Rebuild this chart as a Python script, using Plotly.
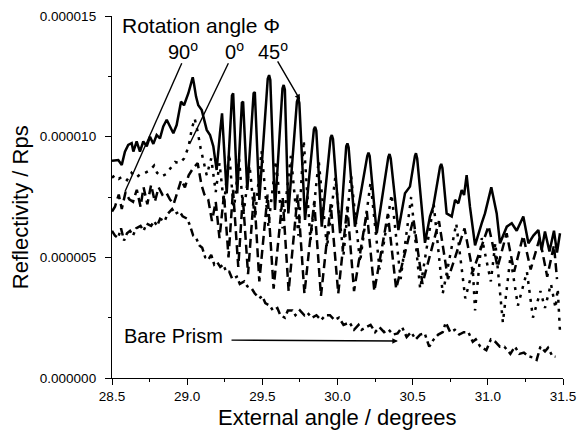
import plotly.graph_objects as go

# ---------------- data (reflectivity in units of 1e-6) ----------------
rot45 = [(28.50, 9.0), (28.542, 9.03), (28.565, 8.83), (28.586, 9.38), (28.608, 9.66), (28.631, 9.73),
         (28.642, 9.38), (28.664, 9.8), (28.686, 9.38), (28.708, 9.8), (28.731, 9.6), (28.753, 10.0),
         (28.775, 9.7), (28.797, 10.07), (28.819, 9.93), (28.841, 10.42), (28.864, 10.7), (28.886, 10.4),
         (28.908, 10.14), (28.930, 10.48), (28.959, 11.45), (28.979, 11.3), (29.008, 11.8), (29.030, 12.3),
         (29.037, 12.46), (29.045, 12.2), (29.059, 11.66), (29.074, 11.3), (29.097, 11.1), (29.130, 10.28),
         (29.152, 10.07), (29.174, 9.6), (29.196, 8.62), (29.218, 10.14), (29.232, 10.97), (29.263, 7.65),
         (29.282, 10.0), (29.298, 11.7), (29.306, 11.8), (29.333, 7.65), (29.364, 11.4), (29.372, 11.45),
         (29.400, 7.79), (29.442, 11.8), (29.450, 11.85), (29.480, 7.38), (29.536, 12.4), (29.545, 12.55),
         (29.553, 12.35), (29.584, 6.96), (29.634, 12.0), (29.642, 12.14), (29.650, 11.95), (29.673, 6.82),
         (29.730, 11.45), (29.738, 11.6), (29.746, 11.4), (29.784, 6.55), (29.843, 10.3), (29.851, 10.41),
         (29.859, 10.25), (29.895, 6.27), (29.954, 9.95), (29.962, 10.07), (29.970, 9.9), (30.017, 6.0),
         (30.058, 9.6), (30.066, 9.72), (30.074, 9.55), (30.116, 6.27), (30.198, 9.2), (30.206, 9.34),
         (30.214, 9.2), (30.261, 6.0), (30.338, 9.15), (30.346, 9.28), (30.354, 9.1), (30.405, 6.13),
         (30.449, 7.65), (30.482, 7.93), (30.515, 9.2), (30.522, 9.31), (30.530, 9.1), (30.582, 5.6),
         (30.615, 6.69), (30.637, 7.1), (30.682, 8.75), (30.690, 8.87), (30.698, 8.7), (30.726, 6.82),
         (30.760, 6.69), (30.782, 7.38), (30.804, 7.24), (30.826, 7.79), (30.842, 7.58), (30.859, 8.41),
         (30.881, 7.1), (30.915, 5.5), (30.959, 6.41), (30.981, 6.82), (31.023, 7.9), (31.059, 6.82),
         (31.081, 5.58), (31.126, 6.27), (31.159, 6.41), (31.192, 6.1), (31.236, 6.69), (31.270, 5.58),
         (31.303, 5.9), (31.336, 6.13), (31.358, 5.3), (31.380, 6.07), (31.410, 5.24), (31.440, 6.1),
         (31.460, 5.2), (31.480, 6.0)]

rot0 = [(28.50, 8.3), (28.52, 8.4), (28.545, 8.25), (28.57, 8.35), (28.60, 8.2), (28.63, 8.5), (28.66, 8.3),
        (28.69, 8.45), (28.72, 8.5), (28.75, 8.6), (28.78, 8.8), (28.80, 8.5), (28.83, 8.35), (28.86, 8.45),
        (28.89, 8.7), (28.92, 8.95), (28.95, 8.9), (28.98, 9.1), (29.01, 9.6), (29.03, 10.3), (29.05, 10.75),
        (29.07, 10.2), (29.09, 9.5), (29.11, 8.9), (29.13, 8.4), (29.16, 9.1), (29.19, 7.7), (29.215, 8.9),
        (29.245, 7.2), (29.28, 9.3), (29.31, 6.9), (29.345, 9.1), (29.375, 6.8), (29.415, 8.8), (29.45, 6.6),
        (29.495, 9.4), (29.54, 6.3), (29.59, 9.0), (29.635, 6.2), (29.69, 9.2), (29.74, 5.9), (29.775, 9.85),
        (29.82, 5.7), (29.875, 9.0), (29.93, 5.4), (29.985, 8.3), (30.04, 5.1), (30.09, 8.4), (30.15, 4.8),
        (30.22, 8.1), (30.28, 4.5), (30.36, 7.6), (30.42, 4.1), (30.49, 7.5), (30.55, 3.7), (30.64, 7.2),
        (30.70, 3.5), (30.79, 6.4), (30.85, 3.3), (30.90, 4.5), (30.915, 2.8), (30.96, 5.8), (31.02, 4.0),
        (31.05, 5.6), (31.10, 2.3), (31.15, 5.0), (31.20, 3.0), (31.26, 4.4), (31.30, 2.5), (31.35, 3.6),
        (31.38, 2.9), (31.42, 3.9), (31.45, 2.9), (31.465, 3.7), (31.48, 1.9)]

rot90 = [(28.50, 6.9), (28.52, 7.1), (28.545, 7.6), (28.565, 7.0), (28.59, 7.7), (28.615, 7.4), (28.64, 7.3),
         (28.665, 7.8), (28.69, 7.1), (28.71, 7.9), (28.735, 7.2), (28.76, 8.0), (28.785, 7.3), (28.81, 7.9),
         (28.835, 7.6), (28.86, 7.7), (28.885, 7.4), (28.91, 7.2), (28.935, 7.7), (28.96, 8.2), (28.985, 7.9),
         (29.01, 8.4), (29.04, 8.7), (29.07, 8.9), (29.095, 8.0), (29.115, 7.6), (29.14, 7.4), (29.165, 6.5),
         (29.19, 7.3), (29.215, 5.8), (29.245, 7.6), (29.275, 5.0), (29.305, 7.8), (29.34, 4.6), (29.37, 7.5),
         (29.405, 4.3), (29.445, 7.7), (29.48, 4.0), (29.535, 7.6), (29.575, 3.7), (29.635, 7.5), (29.675, 3.6),
         (29.735, 7.6), (29.78, 3.5), (29.845, 7.3), (29.89, 3.4), (29.955, 7.2), (30.005, 3.5), (30.065, 7.1),
         (30.11, 3.6), (30.195, 6.9), (30.245, 3.6), (30.335, 6.8), (30.39, 3.7), (30.505, 6.6), (30.565, 3.9),
         (30.675, 6.5), (30.735, 4.1), (30.845, 6.2), (30.90, 4.4), (31.005, 6.3), (31.065, 4.6), (31.125, 6.0),
         (31.175, 4.4), (31.235, 5.9), (31.285, 4.5), (31.345, 5.8), (31.395, 4.2), (31.44, 5.5), (31.46, 4.1)]

bare = [(28.50, 6.1), (28.52, 5.9), (28.54, 5.8), (28.56, 6.2), (28.58, 5.7), (28.60, 6.0), (28.62, 6.1),
        (28.64, 5.9), (28.66, 6.2), (28.69, 6.3), (28.71, 6.1), (28.73, 6.4), (28.76, 6.3), (28.78, 6.5),
        (28.80, 6.3), (28.82, 6.6), (28.85, 6.5), (28.87, 6.8), (28.90, 7.0), (28.92, 6.8), (28.95, 6.9),
        (28.97, 6.7), (29.00, 6.6), (29.02, 6.3), (29.04, 5.9), (29.06, 5.8), (29.08, 5.5), (29.10, 5.4),
        (29.12, 5.0), (29.14, 4.9), (29.16, 5.1), (29.18, 4.7), (29.20, 4.8), (29.22, 4.6), (29.24, 4.7),
        (29.26, 4.4), (29.28, 4.4), (29.30, 4.1), (29.33, 4.2), (29.35, 3.9), (29.38, 4.0), (29.40, 3.8),
        (29.43, 3.7), (29.45, 3.5), (29.48, 3.3), (29.50, 3.4), (29.52, 3.1), (29.55, 3.0), (29.57, 2.8),
        (29.60, 2.9), (29.62, 2.6), (29.65, 2.5), (29.67, 2.8), (29.70, 2.8), (29.72, 2.6), (29.75, 2.8),
        (29.78, 2.6), (29.80, 2.7), (29.83, 2.5), (29.86, 2.6), (29.89, 2.4), (29.92, 2.6), (29.95, 2.6),
        (29.98, 2.4), (30.01, 2.5), (30.04, 2.2), (30.08, 2.3), (30.11, 2.0), (30.14, 2.2), (30.16, 2.0),
        (30.19, 2.1), (30.22, 2.2), (30.25, 1.9), (30.28, 2.1), (30.31, 1.9), (30.34, 2.0), (30.37, 1.8),
        (30.40, 1.85), (30.43, 2.1), (30.46, 1.7), (30.49, 1.9), (30.52, 1.6), (30.55, 1.8), (30.58, 1.85),
        (30.61, 1.3), (30.64, 1.6), (30.67, 1.8), (30.70, 1.9), (30.72, 2.3), (30.75, 1.9), (30.78, 2.0),
        (30.81, 1.8), (30.84, 1.9), (30.87, 1.9), (30.90, 1.5), (30.92, 1.6), (30.95, 1.3), (30.99, 1.15),
        (31.02, 1.6), (31.05, 1.5), (31.08, 1.3), (31.11, 1.3), (31.15, 1.0), (31.18, 1.3), (31.21, 1.0),
        (31.24, 1.05), (31.27, 0.9), (31.30, 0.85), (31.325, 0.75), (31.35, 1.3), (31.38, 1.1),
        (31.40, 1.25), (31.43, 0.9), (31.45, 0.88)]

x_ticks = [28.5, 29.0, 29.5, 30.0, 30.5, 31.0, 31.5]
y_ticks = [0.0, 5e-6, 10e-6, 15e-6]
SCALE = 1e-6

FONT = "Liberation Sans, Arial, sans-serif"


def xy(series):
    xs = [p[0] for p in series]
    ys = [p[1] * SCALE for p in series]
    return xs, ys


fig = go.Figure()
styles = [
    (rot0, "0°", "3px,6px"),
    (rot90, "90°", "9px,5px"),
    (bare, "Bare Prism", "8px,4px,3px,4px"),
    (rot45, "45°", "solid"),
]
for data, name, dash in styles:
    xs, ys = xy(data)
    fig.add_trace(go.Scatter(x=xs, y=ys, mode="lines", name=name,
                             line=dict(color="black", width=2.5, dash=dash)))

ann_font = dict(family=FONT, size=20, color="black")
title_font = dict(family=FONT, size=22, color="black")
annotations = [
    dict(x=29.09, y=14.6e-6, text="Rotation angle Φ", showarrow=False,
         font=dict(family=FONT, size=21, color="black")),
    dict(x=28.972, y=13.55e-6, text="90<sup>o</sup>", showarrow=False, font=ann_font),
    dict(x=29.312, y=13.55e-6, text="0<sup>o</sup>", showarrow=False, font=ann_font),
    dict(x=29.574, y=13.55e-6, text="45<sup>o</sup>", showarrow=False, font=ann_font),
    dict(x=28.906, y=1.74e-6, text="Bare Prism", showarrow=False, font=ann_font),
    # arrows
    dict(x=29.751, y=11.52e-6, ax=29.596, ay=13.18e-6, axref="x", ayref="y", text="",
         showarrow=True, arrowhead=2, arrowsize=0.8, arrowwidth=1.4, arrowcolor="black"),
    dict(x=30.402, y=1.53e-6, ax=29.285, ay=1.57e-6, axref="x", ayref="y", text="",
         showarrow=True, arrowhead=2, arrowsize=0.8, arrowwidth=1.4, arrowcolor="black"),
    # axis titles
    dict(xref="paper", yref="paper", x=-0.204, y=0.472, xanchor="center", yanchor="middle",
         text="Reflectivity / Rps", textangle=-90, showarrow=False, font=title_font),
    dict(xref="paper", yref="paper", x=0.499, y=-0.108, xanchor="center", yanchor="middle",
         text="External angle / degrees", showarrow=False, font=title_font),
]

shapes = [
    dict(type="line", x0=28.964, y0=13.04e-6, x1=28.586, y1=7.72e-6, line=dict(color="black", width=1.4)),
    dict(type="line", x0=29.274, y0=13.04e-6, x1=29.019, y1=9.73e-6, line=dict(color="black", width=1.4)),
]

axis_common = dict(showgrid=False, zeroline=False, showline=True, linecolor="black", linewidth=1.3,
                   ticks="outside", ticklen=6, tickwidth=1.3, tickcolor="black", automargin=False,
                   tickfont=dict(family=FONT, size=13.5, color="black"))

fig.update_layout(
    template="none",
    width=577, height=433,
    margin=dict(l=112, r=14, t=16, b=55, autoexpand=False),
    paper_bgcolor="white", plot_bgcolor="white",
    showlegend=False,
    annotations=annotations,
    shapes=shapes,
    xaxis=dict(range=[28.5, 31.5], tickvals=x_ticks, ticktext=[f"{v:.1f}" for v in x_ticks],
               minor=dict(ticks="outside", ticklen=3, tickwidth=1.3, tickcolor="black", dtick=0.25, tick0=28.5),
               **axis_common),
    yaxis=dict(range=[0, 15e-6], tickvals=y_ticks, ticktext=[f"{v:.6f}" for v in y_ticks],
               minor=dict(ticks="outside", ticklen=3, tickwidth=1.3, tickcolor="black", dtick=2.5e-6, tick0=0),
               ticklabelstandoff=6, **axis_common),
)

fig.write_html("out.html", config={"displayModeBar": False},
               post_script="document.body.style.margin='0';document.body.style.overflow='hidden';")
